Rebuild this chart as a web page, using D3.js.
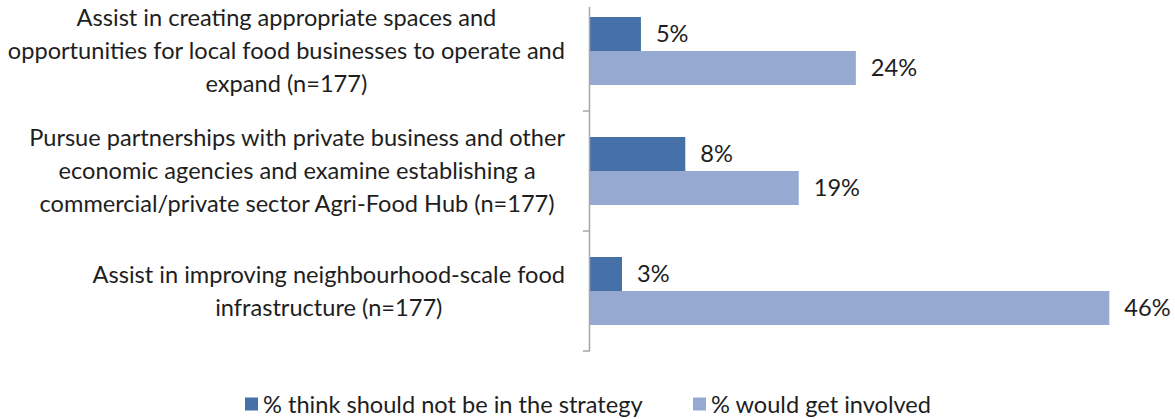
<!DOCTYPE html>
<html><head><meta charset="utf-8">
<script src="https://cdn.jsdelivr.net/npm/d3@7"></script>
<style>
html,body{margin:0;padding:0;background:#fff;}
svg{display:block;font-family:Lato, "Liberation Sans", sans-serif;}
</style></head>
<body>
<svg id="chart" width="1175" height="419"></svg>
<script>
const categories = [
  "Assist in creating appropriate spaces and\nopportunities for local food businesses to operate and\nexpand (n=177)",
  "Pursue partnerships with private business and other\neconomic agencies and examine establishing a\ncommercial/private sector Agri-Food Hub (n=177)",
  "Assist in improving neighbourhood-scale food\ninfrastructure (n=177)"
];
const seriesNames = ["% think should not be in the strategy", "% would get involved"];
const notInStrategy = [4.52, 8.46, 2.84];
const wouldGetInvolved = [23.6, 18.53, 46.1];
const colors = ["#4571a8", "#95a9d1"];

const svg = d3.select("#chart");
const textColor = "#1e1e1e";
const fontSize = 23.6;

const x = d3.scaleLinear().domain([0, 50]).range([590, 1153.25]);
const y = d3.scaleBand().domain(categories).range([-9, 351]).padding(0);
const ySub = d3.scaleBand().domain(seriesNames).range([0, y.bandwidth()]).paddingInner(0).paddingOuter(0.765);

const rows = categories.map((c, i) => ({cat: c, vals: [notInStrategy[i], wouldGetInvolved[i]]}));

const g = svg.append("g");
rows.forEach(r => {
  const gg = g.append("g").attr("transform", `translate(0,${y(r.cat)})`);
  r.vals.forEach((v, j) => {
    gg.append("rect")
      .attr("x", x(0)).attr("y", ySub(seriesNames[j]))
      .attr("width", x(v) - x(0)).attr("height", ySub.bandwidth())
      .attr("fill", colors[j]);
    gg.append("text")
      .attr("x", x(v) + 15).attr("y", ySub(seriesNames[j]) + ySub.bandwidth() / 2)
      .attr("dy", "0.36em")
      .attr("font-size", fontSize).attr("fill", textColor)
      .text(Math.round(v) + "%");
  });
  const lines = r.cat.split("\n");
  const lh = 33;
  const cy = y(r.cat) + y.bandwidth() / 2;
  const lg = g.append("g");
  const texts = lines.map((ln, k) => lg.append("text")
      .attr("y", cy + (k - (lines.length - 1) / 2) * lh)
      .attr("dy", "0.36em").attr("text-anchor", "middle")
      .attr("font-size", fontSize).attr("fill", textColor)
      .text(ln));
  const maxW = d3.max(texts, t => t.node().getComputedTextLength());
  const cx = 565 - maxW / 2;
  texts.forEach(t => t.attr("x", cx));
});

// axis
const ax = svg.append("g").attr("stroke", "#a6a6a6").attr("stroke-width", 1.5);
ax.append("line").attr("x1", x(0) - 0.5).attr("x2", x(0) - 0.5).attr("y1", 7).attr("y2", y.range()[1]);
categories.forEach(c => {
  const ty = y(c) + y.bandwidth();
  ax.append("line").attr("x1", x(0) - 7).attr("x2", x(0)).attr("y1", ty).attr("y2", ty);
});

// legend
const legendX = [245, 693];
seriesNames.forEach((s, j) => {
  const lg = svg.append("g").attr("transform", `translate(${legendX[j]},404)`);
  lg.append("rect").attr("x", 0).attr("y", -6.5).attr("width", 13).attr("height", 13).attr("fill", colors[j]);
  lg.append("text").attr("x", 18).attr("y", 0).attr("dy", "0.36em")
    .attr("font-size", fontSize).attr("fill", textColor).text(s);
});
</script>
</body></html>
